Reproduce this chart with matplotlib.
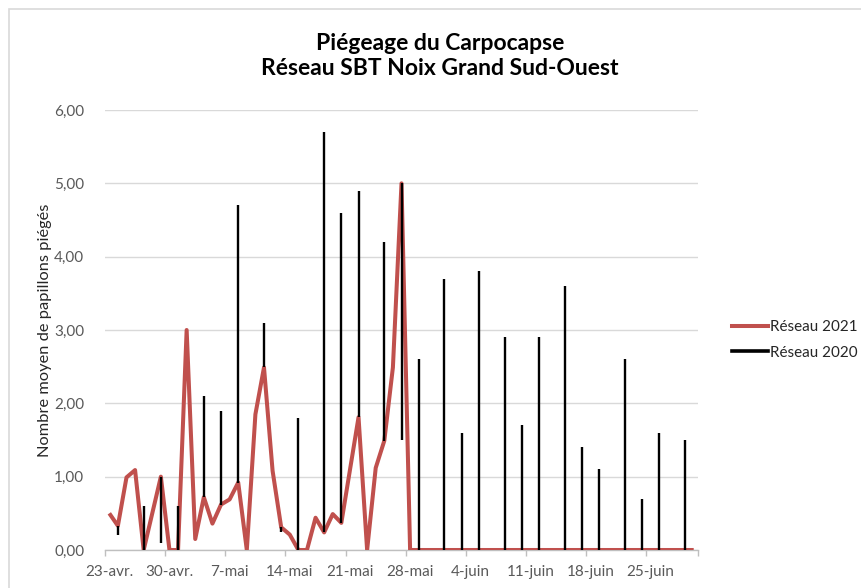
import matplotlib
matplotlib.use("Agg")
import matplotlib.pyplot as plt
import matplotlib.dates as mdates
from matplotlib.lines import Line2D
from matplotlib.patches import Rectangle
import pandas as pd
import numpy as np

plt.rcParams['font.family'] = ['Lato', 'DejaVu Sans']

# ---- Data ----
dates_2021 = ["2021-04-23", "2021-04-24", "2021-04-25", "2021-04-26", "2021-04-27",
              "2021-04-29", "2021-04-30", "2021-05-01", "2021-05-02", "2021-05-03",
              "2021-05-04", "2021-05-05", "2021-05-06", "2021-05-07", "2021-05-08",
              "2021-05-09", "2021-05-10", "2021-05-11", "2021-05-12", "2021-05-13",
              "2021-05-14", "2021-05-15", "2021-05-16", "2021-05-17", "2021-05-18",
              "2021-05-19", "2021-05-20", "2021-05-22", "2021-05-23", "2021-05-24",
              "2021-05-25", "2021-05-26", "2021-05-27"] + \
             [d.strftime("%Y-%m-%d") for d in pd.date_range("2021-05-28", "2021-06-30")]
values_2021 = [0.50, 0.33, 0.99, 1.09, 0.00,
               1.00, 0.00, 0.00, 3.00, 0.15,
               0.72, 0.36, 0.62, 0.69, 0.92,
               0.00, 1.85, 2.49, 1.08, 0.31,
               0.21, 0.00, 0.00, 0.44, 0.24,
               0.49, 0.37, 1.81, 0.00, 1.12,
               1.49, 2.49, 5.00] + [0.0] * 34

dates_2020 = ["2021-04-24", "2021-04-27", "2021-04-29", "2021-05-01", "2021-05-04",
              "2021-05-06", "2021-05-08", "2021-05-11", "2021-05-13", "2021-05-15",
              "2021-05-18", "2021-05-20", "2021-05-22", "2021-05-25", "2021-05-27",
              "2021-05-29", "2021-06-01", "2021-06-03", "2021-06-05", "2021-06-08",
              "2021-06-10", "2021-06-12", "2021-06-15", "2021-06-17", "2021-06-19",
              "2021-06-22", "2021-06-24", "2021-06-26", "2021-06-29"]
values_2020 = [0.20, 0.60, 0.10, 0.60, 2.10,
               1.90, 4.70, 3.10, 0.25, 1.80,
               5.70, 4.60, 4.90, 4.20, 1.50,
               2.60, 3.70, 1.60, 3.80, 2.90,
               1.70, 2.90, 3.60, 1.40, 1.10,
               2.60, 0.70, 1.60, 1.50]

tick_dates = ["2021-04-23", "2021-04-30", "2021-05-07", "2021-05-14", "2021-05-21",
              "2021-05-28", "2021-06-04", "2021-06-11", "2021-06-18", "2021-06-25"]
tick_labels = ["23-avr.", "30-avr.", "7-mai", "14-mai", "21-mai",
               "28-mai", "4-juin", "11-juin", "18-juin", "25-juin"]

title = "Piégeage du Carpocapse\nRéseau SBT Noix Grand Sud-Ouest"
ylabel = "Nombre moyen de papillons piégés"
legend_labels = ["Réseau 2021", "Réseau 2020"]

# ---- Figure ----
W, H = 862, 588
fig = plt.figure(figsize=(W / 100, H / 100), dpi=100)
fig.patches.append(Rectangle((9 / W, -0.1), 1.0, 1 - 9 / H + 0.1, transform=fig.transFigure,
                             fill=False, edgecolor="#D9D9D9", linewidth=1.2))

ax = fig.add_axes([105 / W, 1 - 550 / H, (698 - 105) / W, (550 - 110) / H])

red = "#C0504D"
txt = "#595959"

x21 = mdates.date2num(pd.to_datetime(dates_2021))
x20 = mdates.date2num(pd.to_datetime(dates_2020))
lookup21 = dict(zip(dates_2021, values_2021))
low = [min(lookup21[d], v) for d, v in zip(dates_2020, values_2020)]
high = [max(lookup21[d], v) for d, v in zip(dates_2020, values_2020)]

ax.plot(x21, values_2021, color=red, linewidth=2.9, solid_joinstyle="round",
        solid_capstyle="butt", zorder=3)
ax.vlines(x20, low, high, color="black", linewidth=1.7, zorder=4)

start = mdates.date2num(pd.Timestamp("2021-04-23"))
end = mdates.date2num(pd.Timestamp("2021-06-30"))
ax.set_xlim(start - 0.5, end + 0.5)
ax.set_ylim(0, 6)

# y axis
ax.set_yticks(np.arange(0, 6.01, 1))
ax.set_yticklabels([f"{v:.2f}".replace(".", ",") for v in np.arange(0, 6.01, 1)],
                   fontsize=11, color=txt)
ax.tick_params(axis="y", length=0, pad=15)
ax.grid(axis="y", color="#D9D9D9", linewidth=1)
ax.set_axisbelow(True)

# x axis: tick marks at day boundaries, labels centred on days
tx = mdates.date2num(pd.to_datetime(tick_dates))
ax.set_xticks(list(tx - 0.5) + [end + 0.5])
ax.set_xticklabels([])
ax.tick_params(axis="x", length=4, color="#BFBFBF", width=1)
ax.set_xticks(tx, minor=True)
ax.set_xticklabels(tick_labels, minor=True, fontsize=11, color=txt)
ax.tick_params(axis="x", which="minor", length=0, pad=11)

for s in ["top", "right", "left"]:
    ax.spines[s].set_visible(False)
ax.spines["bottom"].set_color("#BFBFBF")
ax.spines["bottom"].set_linewidth(1)

fig.text(45 / W, 1 - 330 / H, ylabel, rotation=90, ha="center", va="center",
         fontsize=11.8, color="#262626")
fig.text(440 / W, 1 - 56 / H, title, ha="center", va="center", fontsize=16.5,
         fontweight="bold", color="black", linespacing=1.2)

handles = [Line2D([0], [0], color=red, linewidth=2.9),
           Line2D([0], [0], color="black", linewidth=2.6)]
fig.legend(handles, legend_labels, loc="center left",
           bbox_to_anchor=(718 / W, 1 - 340 / H), frameon=False, fontsize=11,
           handlelength=2.4, handletextpad=0.1, labelspacing=0.75, labelcolor="#262626")

fig.savefig("out.png", dpi=100)
